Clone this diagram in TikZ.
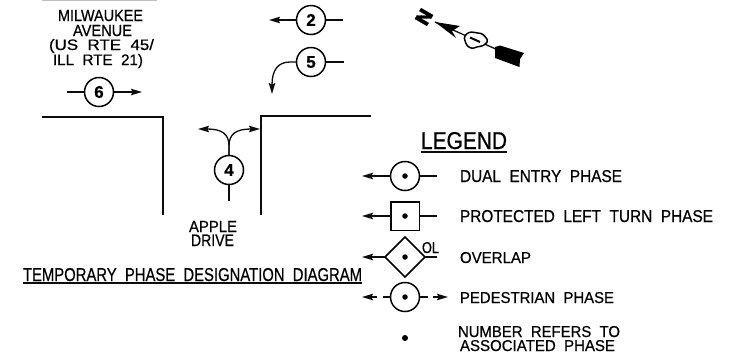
\documentclass[tikz,border=0pt]{standalone}
\usepackage{fontspec}
\usepackage{graphicx}
\setmainfont[FakeBold=0.6]{Liberation Sans}
\newfontfamily\heavy[BoldFeatures={FakeBold=1.5}]{DejaVu Sans}
\usetikzlibrary{arrows.meta,shapes.geometric}
\newcommand{\lab}[6]{\node[lab] (#1) at (#2,#3) {\resizebox{#4pt}{#5pt}{#6}};}
\tikzset{
  lab/.style={anchor=base west,inner sep=0pt,outer sep=0pt},
  ln/.style={line width=1.3pt,black!95},
  arr/.style={ln,-{Stealth[length=11pt,width=6.5pt,inset=1.5pt]}},
  phase/.style={circle,draw,line width=1.5pt,minimum size=29pt,inner sep=0pt,font=\fontsize{17}{17}\selectfont\bfseries,outer sep=0pt},
  boxph/.style={rectangle,draw,line width=1.5pt,minimum size=28.5pt,inner sep=0pt,outer sep=0pt},
  dia/.style={diamond,draw,line width=1.5pt,minimum size=40pt,inner sep=0pt,outer sep=0pt},
  blob/.style={circle,fill,inner sep=0pt,minimum size=5.5pt},
}
\begin{document}
\begin{tikzpicture}[x=1pt,y=-1pt]
\useasboundingbox (0,0) rectangle (734,360);
% residue along top edge
\coordinate (ta) at (42,0.5); \coordinate (tb) at (157,0.5);
\draw[black!25,line width=1pt] (ta) -- (tb);
% street labels
\lab{m1}{58}{21}{85}{11}{MILWAUKEE}
\lab{m2}{73}{36}{59}{11}{AVENUE}
\lab{m3}{49}{50}{105}{11}{(US\ \ RTE\ \ 45/}
\lab{m4}{53}{65}{90}{11}{ILL\ \ RTE\ \ 21)}
\lab{a1}{189}{232}{48}{11}{APPLE}
\lab{a2}{191}{246}{43}{11.5}{DRIVE}
% phase 2
\node[phase] (p2) at (311,20) {2};
\coordinate (p2l) at (269,20); \coordinate (p2r) at (343,20);
\draw[arr] (p2.west) -- (p2l);
\draw[ln] (p2.east) -- (p2r);
% phase 5
\node[phase] (p5) at (311,62) {5};
\coordinate (p5l) at (272,94); \coordinate (p5r) at (344,62);
\draw[arr] (p5.west) -- (290,62) .. controls (278,62) and (272,70) .. (p5l);
\draw[ln] (p5.east) -- (p5r);
% phase 6
\node[phase] (p6) at (99,92) {6};
\coordinate (p6l) at (67,92); \coordinate (p6r) at (142,92);
\draw[ln] (p6.west) -- (p6l);
\draw[arr] (p6.east) -- (p6r);
% road corners
\coordinate (ra) at (42,117); \coordinate (rb) at (163,117); \coordinate (rc) at (163,215);
\coordinate (rd) at (371,116); \coordinate (re) at (261,116); \coordinate (rf) at (261,215);
\draw[ln] (ra) -- (rb) -- (rc);
\draw[ln] (rd) -- (re) -- (rf);
% phase 4
\node[phase] (p4) at (229,170) {4};
\coordinate (p4b) at (229,201); \coordinate (p4l) at (198,129); \coordinate (p4r) at (260,129);
\draw[ln] (p4.south) -- (p4b);
\draw[arr] (p4.north) -- (229,146) .. controls (229,134) and (222,129) .. (p4l);
\draw[arr] (p4.north) -- (229,146) .. controls (229,134) and (236,129) .. (p4r);
% title
\lab{title}{23}{281}{339}{13}{TEMPORARY\ \ PHASE\ \ DESIGNATION\ \ DIAGRAM}
\coordinate (tl) at (23,283); \coordinate (tr) at (362,283);
\draw[ln] (tl) -- (tr);
% north arrow
\node[lab,anchor=center,rotate=60,font=\heavy\bfseries\fontsize{19}{19}\selectfont] (nn) at (424,17) {N};
\coordinate (tip) at (435,22); \coordinate (tail) at (498,50);
\draw[ln] (tip) -- (tail);
\fill (tip) -- (460,26) -- (452,31) -- (456,38) -- cycle;
\fill (495,47) -- (500,45.5) -- (524,53) -- (520,59) -- (519.5,67) -- (495,58) -- cycle;
\filldraw[fill=white,draw=black,line width=1.5pt,rounded corners=1.5pt]
  (464,37) -- (468,32.5) -- (473,32) -- (477,33) -- (482,33.5) -- (486,37.5) -- (488,41) -- (485,44.5) -- (481,46.5)
  -- (477,46.5) -- (474,48.5) -- (469,47.5) -- (466,44) -- cycle;
\draw[line width=2pt] (470,37.5) -- (480,42);
% legend
\lab{leg}{421}{149}{86}{17}{LEGEND}
\coordinate (lgl) at (421,152); \coordinate (lgr) at (507,152);
\draw[ln] (lgl) -- (lgr);
% dual entry
\node[phase] (d) at (405,176) {}; \node[blob] (d0) at (405,176) {};
\coordinate (dl) at (362,176); \coordinate (dr) at (437,176);
\draw[arr] (d.west) -- (dl); \draw[ln] (d.east) -- (dr);
\lab{t1}{460}{182}{162}{12}{DUAL\ \ ENTRY\ \ PHASE}
% protected
\node[boxph] (s) at (405,216) {}; \node[blob] (s0) at (405,216) {};
\coordinate (sl) at (362,216); \coordinate (sr) at (437,216);
\draw[arr] (s.west) -- (sl); \draw[ln] (s.east) -- (sr);
\lab{t2}{460}{222}{253}{12}{PROTECTED\ \ LEFT\ \ TURN\ \ PHASE}
% overlap
\node[dia] (o) at (405,257) {}; \node[blob] (o0) at (405,257) {};
\coordinate (ol) at (362,257); \coordinate (or) at (437,257);
\draw[arr] (o.west) -- (ol); \draw[ln] (o.east) -- (or);
\lab{olt}{422}{253}{17}{11}{OL}
\lab{t3}{460}{263}{71}{11}{OVERLAP}
% pedestrian
\node[phase] (q) at (405,297) {}; \node[blob] (q0) at (405,297) {};
\coordinate (ql1) at (383,297); \coordinate (ql2) at (377,297); \coordinate (ql3) at (362,297);
\coordinate (qr1) at (428,297); \coordinate (qr2) at (433,297); \coordinate (qr3) at (448,297);
\draw[ln] (q.west) -- (ql1); \draw[arr] (ql2) -- (ql3);
\draw[ln] (q.east) -- (qr1); \draw[arr] (qr2) -- (qr3);
\lab{t4}{460}{303}{154}{11}{PEDESTRIAN\ \ PHASE}
% number note
\node[blob,minimum size=6pt] (b) at (405,338) {};
\lab{t5}{458}{337}{162}{11}{NUMBER\ \ REFERS\ \ TO}
\lab{t6}{460}{351}{155}{11}{ASSOCIATED\ \ PHASE}
\end{tikzpicture}
\end{document}
